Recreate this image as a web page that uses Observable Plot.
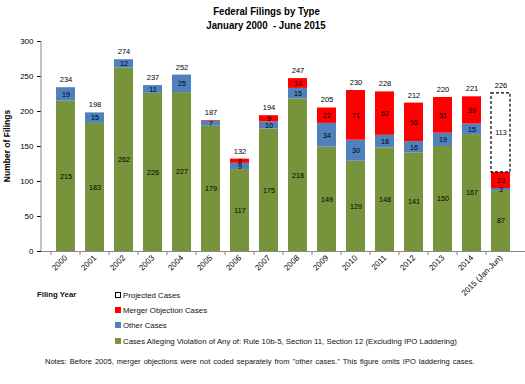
<!DOCTYPE html>
<html>
<head>
<meta charset="utf-8">
<script src="https://cdn.jsdelivr.net/npm/d3@7"></script>
<script src="https://cdn.jsdelivr.net/npm/@observablehq/plot@0.6"></script>
<style>
  body { margin: 0; background: #fff; font-family: "Liberation Sans", Arial, sans-serif; }
  #wrap { position: relative; width: 525px; height: 384px; overflow: hidden; }
  .title { position: absolute; left: 0; width: 532px; text-align: center; font-family: "Liberation Sans", Arial, sans-serif; font-weight: bold; font-size: 11.5px; line-height: 13px; color: #000; }
  .title span { display: inline-block; transform: scaleX(0.84); }
  #chart { position: absolute; left: 0; top: 32px; }
  .leg { position: absolute; font-size: 7.8px; color: #111; white-space: nowrap; }
  .sw { display: inline-block; width: 6px; height: 6px; margin-right: 2px; vertical-align: 0px; }
  #notes { position: absolute; left: 45px; top: 357px; font-size: 7.5px; color: #111; white-space: nowrap; word-spacing: 1.0px; }
</style>
</head>
<body>
<div id="wrap">
  <div id="chart"></div>
  <div class="title" style="top:5px"><span>Federal Filings by Type</span></div>
  <div class="title" style="top:19px"><span>January 2000&nbsp; - June 2015</span></div>
  <div class="leg" style="left:37px; top:290px; font-weight:bold;">Filing Year</div>
  <div class="leg" style="left:115px; top:291px;"><span class="sw" style="border:1px dashed #000; width:4px; height:4px; background:#fff"></span>Projected Cases</div>
  <div class="leg" style="left:115px; top:306px;"><span class="sw" style="background:#FF0000"></span>Merger Objection Cases</div>
  <div class="leg" style="left:115px; top:321px;"><span class="sw" style="background:#4F81BD"></span>Other Cases</div>
  <div class="leg" style="left:115px; top:337px;"><span class="sw" style="background:#77933C"></span>Cases Alleging Violation of Any of: Rule 10b-5, Section 11, Section 12 (Excluding IPO Laddering)</div>
  <div id="notes">Notes: Before 2005, merger objections were not coded separately from "other cases." This figure omits IPO laddering cases.</div>
</div>
<script>
const years = ["2000","2001","2002","2003","2004","2005","2006","2007","2008","2009","2010","2011","2012","2013","2014","2015 (Jan-Jun)"];
const rule10b5 = [215,183,262,226,227,179,117,175,218,149,129,148,141,150,167,87];
const otherCases = [19,15,12,11,25,7,9,10,15,34,30,18,16,19,15,3];
const mergerCases = [0,0,0,0,0,1,6,9,14,22,71,62,55,51,39,23];
const projected = [0,0,0,0,0,0,0,0,0,0,0,0,0,0,0,113];
const totals = [234,198,274,237,252,187,132,194,247,205,230,228,212,220,221,226];
const yTicks = [0,50,100,150,200,250,300];

const seriesNames = ["Cases Alleging Violation", "Other Cases", "Merger Objection Cases", "Projected Cases"];
const seriesValues = [rule10b5, otherCases, mergerCases, projected];
const seriesColors = ["#77933C", "#4F81BD", "#FF0000", "#FFFFFF"];

// build stacked table
const rows = [];
years.forEach((yr, i) => {
  let base = 0;
  seriesNames.forEach((name, s) => {
    const v = seriesValues[s][i];
    if (v > 0) rows.push({year: yr, type: name, value: v, y1: base, y2: base + v});
    base += v;
  });
});
const totalRows = years.map((yr, i) => ({year: yr, total: totals[i]}));
const labelRows = rows.filter(d => d.value >= 2);

const fontF = "Liberation Sans, Arial, sans-serif";
const chart = Plot.plot({
  width: 525,
  height: 283,
  marginTop: 9,
  marginBottom: 64,
  marginLeft: 41,
  marginRight: 0,
  style: {fontFamily: fontF, fontSize: "8px", color: "#000", background: "transparent", overflow: "visible"},
  x: {domain: years, padding: 0.33, label: null},
  y: {domain: [0, 300], label: null},
  color: {domain: seriesNames, range: seriesColors},
  marks: [
    Plot.axisY({ticks: yTicks, tickSize: 4, tickPadding: 4, fontSize: 8, label: null}),
    Plot.axisX({tickSize: 0, tickRotate: -45, tickPadding: 5, fontSize: 8, label: null}),
    Plot.barY(rows, {x: "year", y1: "y1", y2: "y2", fill: "type"}),
    Plot.barY(rows.filter(d => d.type === "Projected Cases"), {x: "year", y1: "y1", y2: "y2", fill: "none", stroke: "#000", strokeWidth: 1.2, strokeDasharray: "3,2"}),
    Plot.ruleY([0], {stroke: "#888"}),
    Plot.text(labelRows, {x: "year", y: d => (d.y1 + d.y2) / 2, text: "value", fontSize: 7.2, fill: "#000"}),
    Plot.text(totalRows, {x: "year", y: "total", text: "total", dy: -8, fontSize: 7.5, fill: "#000"})
  ]
});
document.getElementById("chart").appendChild(chart);

// y axis line and category tick marks via scales
const ys = chart.scale("y"), xs = chart.scale("x");
const svg = d3.select(chart);
const x0 = 41;
svg.append("line").attr("x1", x0).attr("x2", x0)
  .attr("y1", ys.apply(0)).attr("y2", ys.apply(300)).attr("stroke", "#888");
const gap = (xs.step - xs.bandwidth) / 2;
years.forEach(yr => {
  const bx = xs.apply(yr) - gap;
  svg.append("line").attr("x1", bx).attr("x2", bx)
    .attr("y1", ys.apply(0)).attr("y2", ys.apply(0) + 4).attr("stroke", "#888");
});
// rotated y label
svg.append("text").attr("transform", `translate(10,${(ys.apply(0) + ys.apply(300)) / 2}) rotate(-90)`)
  .attr("text-anchor", "middle").attr("font-weight", "bold").attr("font-size", "8.5px")
  .attr("font-family", fontF).text("Number of Filings");
</script>
</body>
</html>
